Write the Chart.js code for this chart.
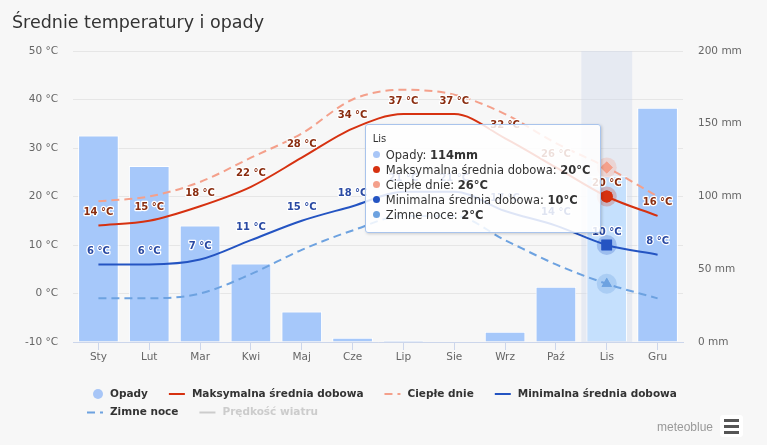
<!DOCTYPE html>
<html lang="pl">
<head>
<meta charset="utf-8">
<title>Średnie temperatury i opady</title>
<script src="https://cdn.jsdelivr.net/npm/chart.js@4"></script>
<style>
  html, body { margin: 0; padding: 0; background: #f7f7f7; }
  #wrap { position: relative; width: 767px; height: 445px; }
  #tip {
    position: absolute; left: 0; top: 0; opacity: 0;
    background: rgba(255, 255, 255, 0.85);
    border: 1px solid #a9c4ec; border-radius: 3px;
    box-shadow: 1px 1px 3px rgba(0, 0, 0, 0.18);
    padding: 7px 9px 9px 7px;
    font-family: 'DejaVu Sans', sans-serif; font-size: 11.5px; color: #333;
    white-space: nowrap; pointer-events: none;
  }
  #tip .ttl { font-size: 10px; line-height: 14px; margin-bottom: 2px; }
  #tip .row { line-height: 15px; }
  #tip .dot { display: inline-block; width: 7px; height: 7px; border-radius: 50%; margin-right: 6px; vertical-align: 1px; }
</style>
</head>
<body>
<div id="wrap">
  <canvas id="climateChart"></canvas>
  <div id="tip"></div>
</div>
<script>
const months = ['Sty', 'Lut', 'Mar', 'Kwi', 'Maj', 'Cze', 'Lip', 'Sie', 'Wrz', 'Paź', 'Lis', 'Gru'];
const precipitation = [142, 121, 80, 54, 21, 3, 1, 0, 7, 38, 114, 161]; // mm
const maxTemp = [14, 15, 18, 22, 28, 34, 37, 37, 32, 26, 20, 16];
const warmDays = [19, 20, 23, 28, 33, 40, 42, 41, 37, 31, 26, 20];
const minTemp = [6, 6, 7, 11, 15, 18, 21, 21, 17, 14, 10, 8];
const coldNights = [-1, -1, 0, 4, 9, 13, 16, 16, 11, 6, 2, -1];
const tempTicks = [-10, 0, 10, 20, 30, 40, 50];
const rainTicks = [0, 50, 100, 150, 200];
const selectedMonth = 10; // Lis - podświetlony miesiąc z tooltipem

const FONT = "'DejaVu Sans', sans-serif";
Chart.defaults.font.family = FONT;
Chart.defaults.color = '#666';

// pas podświetlenia wybranego miesiąca
const bandPlugin = {
    id: 'band',
    beforeDatasetsDraw(chart) {
        const x = chart.scales.x;
        const w = x.width / months.length;
        const cx = x.getPixelForValue(selectedMonth);
        const area = chart.chartArea;
        chart.ctx.save();
        chart.ctx.fillStyle = 'rgba(204, 214, 235, 0.4)';
        chart.ctx.fillRect(cx - w / 2, area.top, w, area.bottom - area.top);
        chart.ctx.restore();
    }
};

// halo wokół aktywnych punktów
const haloPlugin = {
    id: 'halo',
    afterDatasetsDraw(chart) {
        const ctx = chart.ctx;
        chart.getActiveElements().forEach(a => {
            const ds = chart.data.datasets[a.datasetIndex];
            if (!ds.haloColor) return;
            ctx.save();
            ctx.beginPath();
            ctx.arc(a.element.x, a.element.y, 10, 0, Math.PI * 2);
            ctx.fillStyle = ds.haloColor;
            ctx.fill();
            ctx.restore();
            a.element.draw(ctx, chart.chartArea);
        });
    }
};

// etykiety wartości nad liniami
const valueLabels = {
    id: 'valueLabels',
    afterDatasetsDraw(chart) {
        const ctx = chart.ctx;
        ctx.save();
        ctx.font = 'bold 10px ' + FONT;
        ctx.textAlign = 'center';
        ctx.textBaseline = 'middle';
        ctx.lineJoin = 'round';
        chart.data.datasets.forEach((ds, i) => {
            if (!ds.labelColor) return;
            chart.getDatasetMeta(i).data.forEach((pt, j) => {
                const txt = ds.data[j] + ' °C';
                ctx.strokeStyle = '#fff';
                ctx.lineWidth = 2.5;
                ctx.strokeText(txt, pt.x, pt.y - 13);
                ctx.fillStyle = ds.labelColor;
                ctx.fillText(txt, pt.x, pt.y - 13);
            });
        });
        ctx.restore();
    }
};

// legenda w stylu highcharts + logo
const customLegend = {
    id: 'customLegend',
    afterDraw(chart) {
        const ctx = chart.ctx;
        const area = chart.chartArea;
        const startX = area.left + 14;
        let x = startX;
        let y = area.bottom + 52;
        ctx.save();
        ctx.font = 'bold 10.5px ' + FONT;
        ctx.textBaseline = 'middle';
        ctx.textAlign = 'left';
        chart.data.datasets.forEach(ds => {
            const tw = ctx.measureText(ds.label).width;
            const itemW = 16 + 7 + tw;
            if (x > startX && x + itemW > chart.width - 40) {
                x = startX;
                y += 18.5;
            }
            const col = ds.hidden ? '#cccccc' : (ds.tipColor || ds.borderColor);
            if (ds.type === 'bar') {
                ctx.beginPath();
                ctx.arc(x + 11, y, 5, 0, Math.PI * 2);
                ctx.fillStyle = col;
                ctx.fill();
            } else {
                ctx.beginPath();
                ctx.setLineDash(ds.borderDash || []);
                ctx.strokeStyle = col;
                ctx.lineWidth = 2;
                ctx.moveTo(x, y);
                ctx.lineTo(x + 16, y);
                ctx.stroke();
                ctx.setLineDash([]);
            }
            ctx.fillStyle = ds.hidden ? '#cccccc' : '#333333';
            ctx.fillText(ds.label, x + 23, y);
            x += itemW + 21;
        });

        // meteoblue + menu
        ctx.font = "12px 'Liberation Sans', sans-serif";
        ctx.fillStyle = '#999';
        ctx.textAlign = 'right';
        ctx.fillText('meteoblue', 713, 428);
        ctx.fillStyle = '#ffffff';
        ctx.beginPath();
        ctx.roundRect(720, 415, 23, 22, 3);
        ctx.fill();
        ctx.fillStyle = '#555';
        [419, 425, 431].forEach(yy => ctx.fillRect(724, yy, 15, 3));
        ctx.restore();
    }
};

function externalTooltip(context) {
    const {chart, tooltip} = context;
    const el = document.getElementById('tip');
    if (tooltip.opacity === 0 || !tooltip.dataPoints) {
        el.style.opacity = 0;
        return;
    }
    let html = '<div class="ttl">' + tooltip.title[0] + '</div>';
    tooltip.dataPoints.forEach(p => {
        html += '<div class="row"><span class="dot" style="background:' + p.dataset.tipColor + '"></span>' +
            p.dataset.label + ': <b>' + p.raw + p.dataset.unit + '</b></div>';
    });
    el.innerHTML = html;
    el.style.opacity = 1;
    el.style.left = (tooltip.caretX - el.offsetWidth - 6) + 'px';
    el.style.top = (chart.chartArea.top + 73) + 'px';
}

const ctx = document.getElementById('climateChart').getContext('2d');
const chart = new Chart(ctx, {
    type: 'bar',
    data: {
        labels: months,
        datasets: [{
            type: 'bar',
            label: 'Opady',
            data: precipitation,
            yAxisID: 'y2',
            unit: 'mm',
            tipColor: '#a8c6f7',
            backgroundColor: '#a6c8fa',
            hoverBackgroundColor: '#c5e0fd',
            borderColor: '#ffffff',
            hoverBorderColor: '#ffffff',
            borderWidth: 1,
            hoverBorderWidth: 1,
            barPercentage: 0.8,
            categoryPercentage: 1,
            order: 5
        }, {
            type: 'line',
            label: 'Maksymalna średnia dobowa',
            data: maxTemp,
            yAxisID: 'y',
            unit: '°C',
            tipColor: '#d63110',
            labelColor: '#8a2d10',
            haloColor: 'rgba(214, 49, 16, 0.25)',
            borderColor: '#d63110',
            borderWidth: 2,
            cubicInterpolationMode: 'monotone',
            pointRadius: 0,
            pointStyle: 'circle',
            pointHoverRadius: 6,
            pointHoverBorderWidth: 0,
            pointHoverBackgroundColor: '#d63110',
            order: 1
        }, {
            type: 'line',
            label: 'Ciepłe dnie',
            data: warmDays,
            yAxisID: 'y',
            unit: '°C',
            tipColor: '#f4a08b',
            haloColor: 'rgba(244, 160, 139, 0.3)',
            borderColor: '#f4a08b',
            borderDash: [8, 5],
            borderWidth: 2,
            cubicInterpolationMode: 'monotone',
            pointRadius: 0,
            pointStyle: 'rectRot',
            pointHoverRadius: 6,
            pointHoverBorderWidth: 0,
            pointHoverBackgroundColor: '#f4a08b',
            order: 2
        }, {
            type: 'line',
            label: 'Minimalna średnia dobowa',
            data: minTemp,
            yAxisID: 'y',
            unit: '°C',
            tipColor: '#2454c2',
            labelColor: '#2a4aa3',
            haloColor: 'rgba(36, 84, 194, 0.25)',
            borderColor: '#2454c2',
            borderWidth: 2,
            cubicInterpolationMode: 'monotone',
            pointRadius: 0,
            pointStyle: 'rect',
            pointHoverRadius: 7.5,
            pointHoverBorderWidth: 0,
            pointHoverBackgroundColor: '#2454c2',
            order: 1
        }, {
            type: 'line',
            label: 'Zimne noce',
            data: coldNights,
            yAxisID: 'y',
            unit: '°C',
            tipColor: '#6da2e0',
            haloColor: 'rgba(109, 162, 224, 0.3)',
            borderColor: '#6da2e0',
            borderDash: [8, 5],
            borderWidth: 2,
            cubicInterpolationMode: 'monotone',
            pointRadius: 0,
            pointStyle: 'triangle',
            pointHoverRadius: 6,
            pointHoverBorderWidth: 0,
            pointHoverBackgroundColor: '#6da2e0',
            order: 2
        }, {
            type: 'line',
            label: 'Prędkość wiatru',
            data: [],
            yAxisID: 'y',
            hidden: true,
            borderColor: '#cccccc'
        }]
    },
    options: {
        responsive: true,
        maintainAspectRatio: false,
        animation: false,
        events: [],
        layout: { padding: { left: 12, right: 0, top: 0, bottom: 70 } },
        plugins: {
            legend: { display: false },
            title: {
                display: true,
                text: 'Średnie temperatury i opady',
                align: 'start',
                color: '#333333',
                font: { size: 17.5, weight: 'normal', family: FONT, lineHeight: 1.2 },
                padding: { top: 13, bottom: 17 }
            },
            tooltip: {
                enabled: false,
                mode: 'index',
                intersect: false,
                external: externalTooltip
            }
        },
        scales: {
            x: {
                offset: true,
                grid: { display: true, drawOnChartArea: false, drawTicks: true, tickLength: 8, offset: false, color: '#ccd6eb' },
                border: { display: true, color: '#ccd6eb' },
                ticks: { color: '#666', font: { size: 10.5 }, padding: 1, maxRotation: 0, autoSkip: false },
                afterFit: s => { s.height = 33; }
            },
            y: {
                position: 'left',
                min: tempTicks[0],
                max: tempTicks[tempTicks.length - 1],
                grid: { color: '#e6e6e6', drawTicks: false },
                border: { display: false },
                ticks: {
                    stepSize: tempTicks[1] - tempTicks[0],
                    padding: 15,
                    color: '#666',
                    font: { size: 10.5 },
                    callback: v => v + ' °C'
                },
                afterFit: s => { s.width = 61; }
            },
            y2: {
                position: 'right',
                min: rainTicks[0],
                max: rainTicks[rainTicks.length - 1],
                grid: { drawOnChartArea: false, drawTicks: false },
                border: { display: false },
                ticks: {
                    stepSize: rainTicks[1] - rainTicks[0],
                    padding: 15,
                    color: '#666',
                    font: { size: 10.5 },
                    callback: v => v + ' mm'
                },
                afterFit: s => { s.width = 84; }
            }
        }
    },
    plugins: [bandPlugin, haloPlugin, valueLabels, customLegend]
});

// pokaż stan "najechania" na listopad
const active = chart.data.datasets
    .map((ds, i) => ({ datasetIndex: i, index: selectedMonth }))
    .filter(a => !chart.data.datasets[a.datasetIndex].hidden);
chart.setActiveElements(active);
chart.update();
chart.tooltip.setActiveElements(active, { x: 0, y: 0 });
chart.draw();
</script>
</body>
</html>
